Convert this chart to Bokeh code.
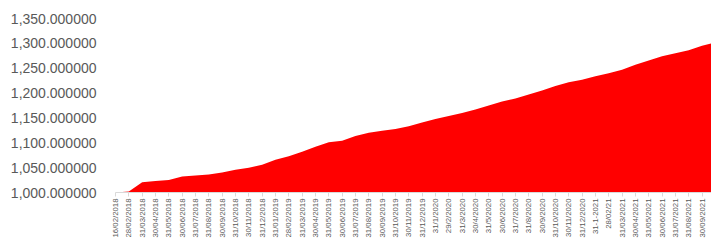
import numpy as np
from bokeh.plotting import figure
from bokeh.models import Range1d, FixedTicker, NumeralTickFormatter, LinearAxis, ColumnDataSource
from bokeh.embed import file_html
from bokeh.resources import INLINE

dates = ["16/02/2018", "28/02/2018", "31/03/2018", "30/04/2018", "31/05/2018", "30/06/2018",
         "31/07/2018", "31/08/2018", "30/09/2018", "31/10/2018", "30/11/2018", "31/12/2018",
         "31/01/2019", "28/02/2019", "31/03/2019", "30/04/2019", "31/05/2019", "30/06/2019",
         "31/07/2019", "31/08/2019", "30/09/2019", "31/10/2019", "30/11/2019", "31/12/2019",
         "31/1/2020", "29/2/2020", "31/3/2020", "30/4/2020", "31/5/2020", "30/6/2020",
         "31/7/2020", "31/8/2020", "30/9/2020", "31/10/2020", "30/11/2020", "31/12/2020",
         "31-1-2021", "28/02/21", "31/03/2021", "30/04/2021", "31/05/2021", "30/06/2021",
         "31/07/2021", "31/08/2021", "30/09/2021", "31/10/2021"]
values = [1000, 1002, 1020.5, 1023, 1025, 1032, 1034, 1036, 1040, 1046, 1050, 1056,
          1066, 1073, 1082, 1092, 1101, 1104, 1113.5, 1120, 1124, 1127.5, 1133.5, 1141,
          1148, 1154, 1160, 1167, 1175, 1183, 1189, 1197, 1205, 1214, 1222, 1227,
          1234, 1240, 1247, 1257, 1265.5, 1274, 1280, 1286, 1295, 1302]
y_ticks = [1000, 1050, 1100, 1150, 1200, 1250, 1300, 1350]

idx = list(range(len(dates)))
src = ColumnDataSource(dict(x=idx, y=values, base=[y_ticks[0]] * len(idx)))

W, H = 711, 240
border_left, border_right, border_top, border_bottom = 115, 0, 18, 46
frame_w = W - border_left - border_right
step = 13.33
x_end = frame_w / step

p = figure(width=W, height=H, output_backend="svg", toolbar_location=None,
           x_range=Range1d(0, x_end), y_range=Range1d(y_ticks[0], y_ticks[-1]),
           min_border_left=border_left, min_border_right=border_right,
           min_border_top=border_top, min_border_bottom=border_bottom,
           x_axis_location=None, y_axis_location=None)
p.outline_line_color = None
p.grid.visible = False

p.varea(x="x", y1="base", y2="y", source=src, fill_color="#ff0000")

yaxis = LinearAxis(ticker=FixedTicker(ticks=y_ticks),
                   formatter=NumeralTickFormatter(format="0,0.000000"))
yaxis.axis_line_color = None
yaxis.major_tick_line_color = None
yaxis.minor_tick_line_color = None
yaxis.major_tick_out = 0
yaxis.major_tick_in = 0
yaxis.major_label_standoff = 19
yaxis.major_label_text_font = "Liberation Sans"
yaxis.major_label_text_font_size = "14px"
yaxis.major_label_text_color = "#595959"
p.add_layout(yaxis, "left")

xaxis = LinearAxis(ticker=FixedTicker(ticks=idx),
                   major_label_overrides={i: d for i, d in zip(idx, dates)})
xaxis.axis_line_color = "#d9d9d9"
xaxis.major_tick_line_color = "#d9d9d9"
xaxis.minor_tick_line_color = None
xaxis.major_tick_out = 4
xaxis.major_tick_in = 0
xaxis.major_label_standoff = 2
xaxis.major_label_orientation = np.pi / 2
xaxis.major_label_text_font = "Liberation Sans"
xaxis.major_label_text_font_size = "7.8px"
xaxis.major_label_text_color = "#595959"
p.add_layout(xaxis, "below")

open("out.html", "w").write(file_html(p, INLINE))
